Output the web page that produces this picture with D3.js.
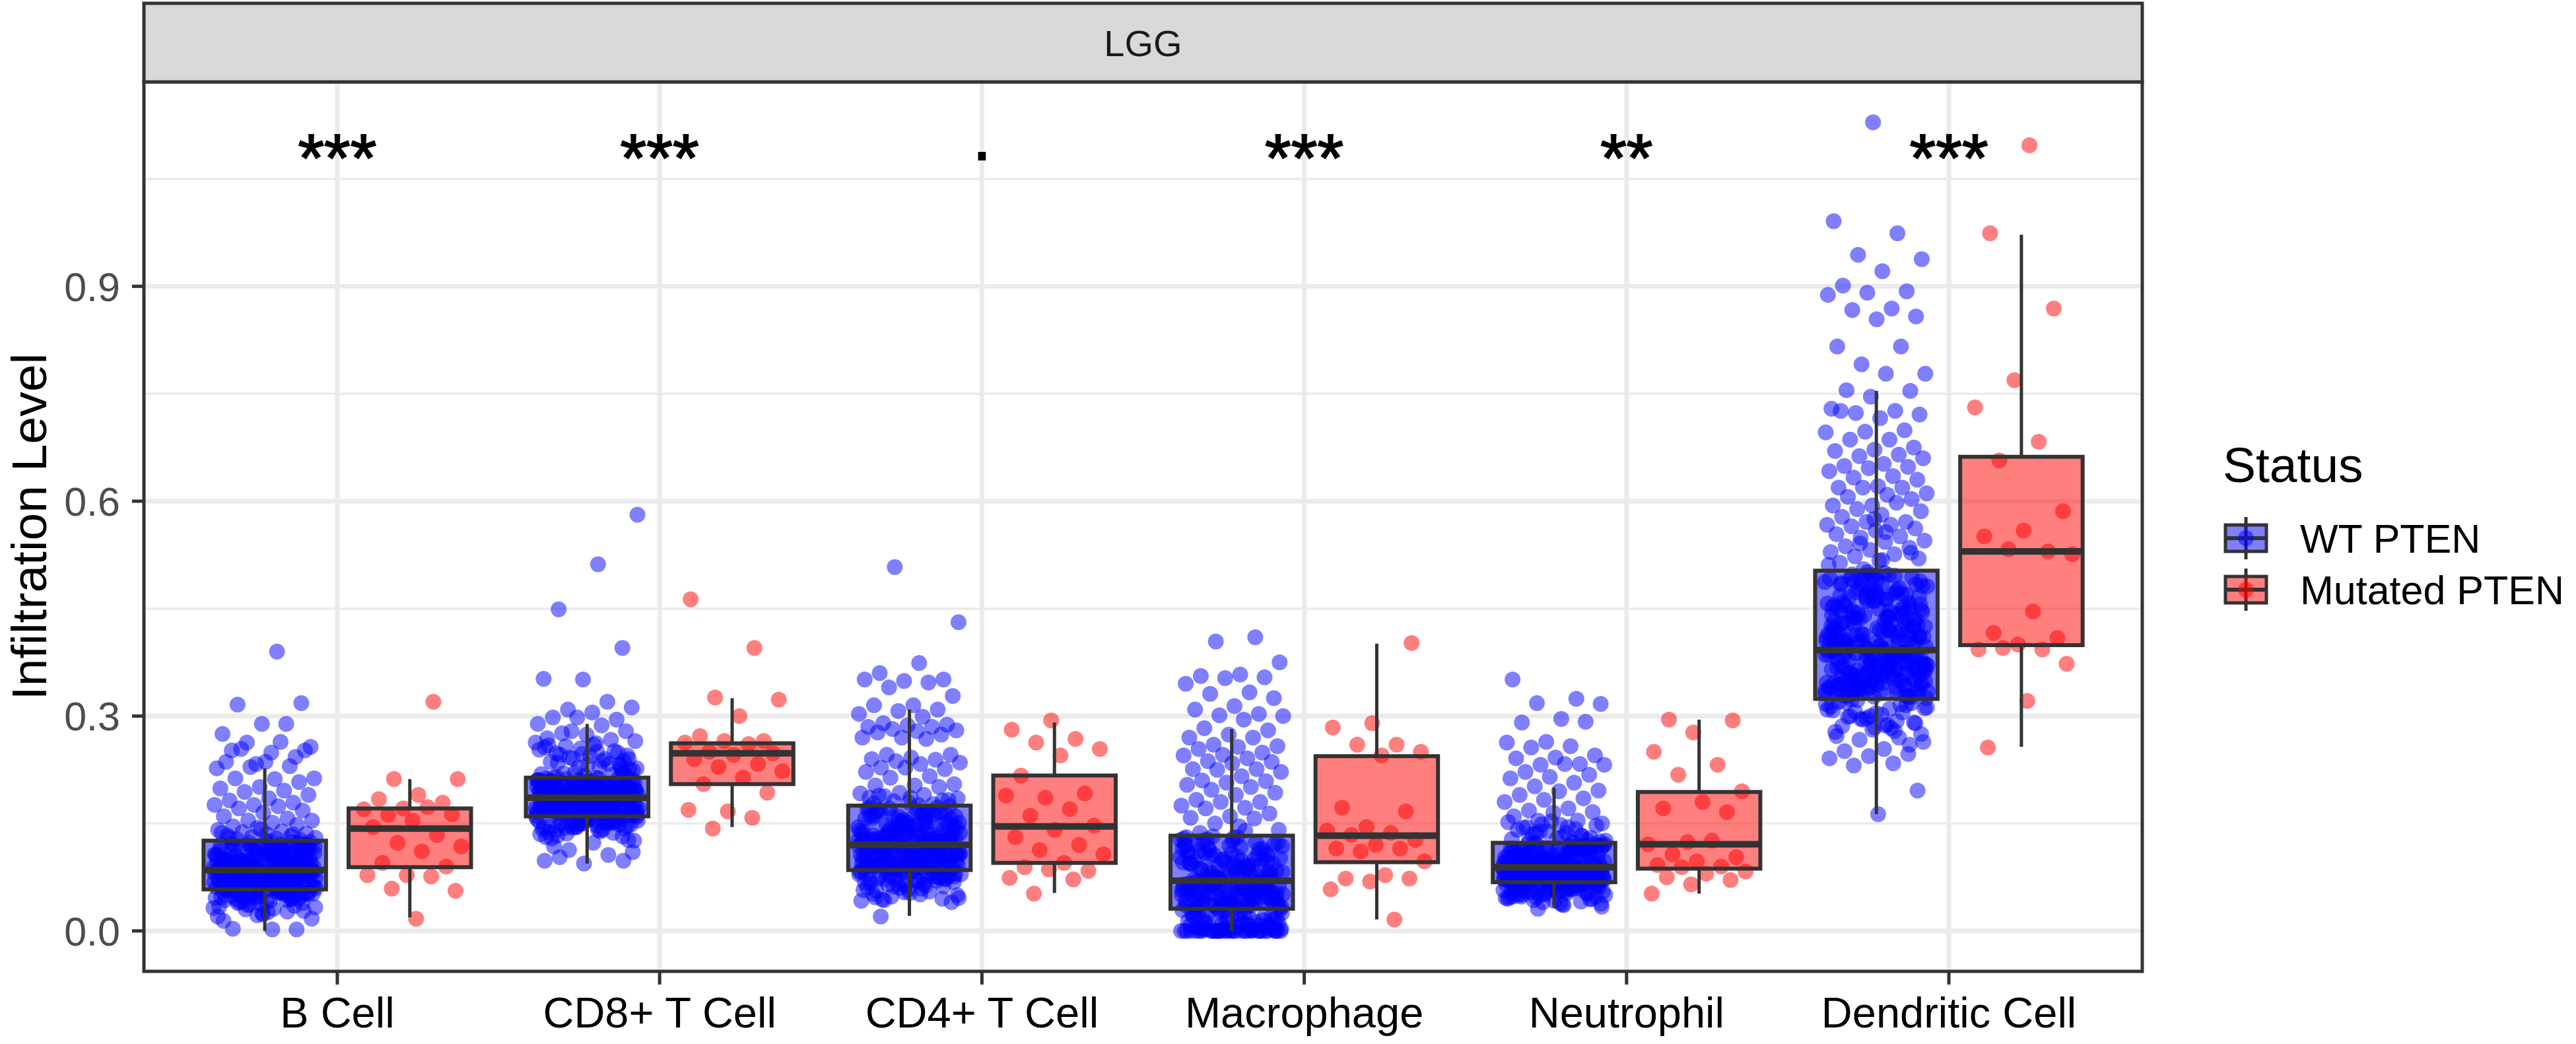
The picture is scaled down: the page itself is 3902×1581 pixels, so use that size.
<!DOCTYPE html>
<html>
<head>
<meta charset="utf-8">
<script src="https://cdn.jsdelivr.net/npm/d3@7"></script>
<style>
  body { margin: 0; background: #ffffff; }
  text { font-family: "Liberation Sans", Arial, Helvetica, sans-serif; }
</style>
</head>
<body>
<svg id="chart"></svg>
<script>
// categories, groups and labels
const cellTypes = ["B Cell", "CD8+ T Cell", "CD4+ T Cell", "Macrophage", "Neutrophil", "Dendritic Cell"];
const statusGroups = ["WT PTEN", "Mutated PTEN"];
const signifLabels = ["***", "***", ".", "***", "**", "***"];
const yTicks = [0, 0.3, 0.6, 0.9];
const facetLabel = "LGG";

// infiltration level x1000
const wtBCell = [390,316,318,289,275,289,263,257,249,252,243,233,227,264,254,252,236,236,230,229,213,212,213,208,201,199,196,194,190,185,182,179,176,176,174,171,168,165,160,157,154,154,151,146,148,
  144,141,139,138,136,135,133,132,131,130,129,128,127,142,137,
  118,97,103,125,88,111,92,106,121,99,86,114,95,108,123,90,101,117,93,105,112,87,98,120,109,94,124,102,89,115,96,107,119,91,100,113,86,104,122,97,110,93,116,88,103,126,99,108,92,118,95,105,111,89,121,100,94,114,107,90,
  72,65,80,59,77,68,84,61,74,70,63,82,66,79,58,71,76,62,85,69,73,64,81,60,78,67,75,83,62,70,66,79,59,73,84,68,61,77,64,80,71,58,75,69,83,63,72,78,60,67,81,74,65,70,76,62,85,68,79,73,
  39,23,14,27,36,17,2,3,2,22,20,55,48,52,41,57,45,50,33,56,44,53,38,47,51,30,54,42,49,35,57,46,53,40,28,55,43,50,37,52,31,56,45,48,34,54,41,51,26,57,44,47,32,53,39,49,25,55,43,58,
  94,71,112,63,88,105,57,79,118,66,99,84,52,109,75,91,122,61,86,103,69,115,81,96,48,73,107,89,64,120,77,101,58,93,83,113,70,98,45,87,110,62,80,104,67,95,117,74,90,55,108,78,100,65,85,124,71,97,60,111,82,92,50,76,106,68,89,119,63,102,79,94,56,87,114,72,99,84,130,135];
const wtCD8 = [581,512,449,395,351,352,320,309,312,305,298,295,298,289,287,276,279,274,269,267,279,265,
  262,248,231,255,219,240,258,226,244,236,251,221,263,229,246,238,217,256,233,242,224,260,215,249,228,253,237,220,245,232,259,218,241,227,250,235,222,247,
  201,190,212,196,207,188,203,193,210,198,187,205,194,213,199,191,208,196,202,189,211,195,206,192,200,186,209,197,204,190,213,193,199,207,188,202,195,211,191,205,198,187,210,194,203,189,208,200,192,206,197,214,190,201,196,209,193,204,188,199,
  172,165,181,161,177,168,185,163,174,170,179,162,183,167,175,160,171,178,164,184,169,173,166,180,161,176,182,168,163,174,170,186,165,177,162,179,171,167,184,173,160,175,169,181,164,178,172,166,183,161,176,170,163,180,168,174,165,185,171,177,
  103,98,94,98,106,113,110,123,118,157,149,153,141,158,146,155,138,151,144,159,147,133,156,150,142,154,136,148,158,129,152,145,157,139,150,143,156,131,153,147,126,155,140,149,158,135,152,144,127,157,146,137,151,154,141,148,132,156,145,150,
  185,172,203,168,194,178,211,163,189,199,175,207,182,170,196,186,215,161,191,179,202,174,188,166,209,181,197,171,193,184,220,158,205,176,190,198,169,183,213,177,195,164,187,200,173,208,180,192,167,204,185,226,150,196,178,189,171,210,182,193,145,201,175,186,218,162,198,180,191,169,206,184,233,155,194,176,188,240,172,199];
const wtCD4 = [508,431,374,360,351,349,351,347,340,328,315,315,
  309,307,303,299,290,288,287,285,285,282,280,279,277,274,270,270,268,246,246,242,240,239,237,235,233,228,226,228,222,216,214,205,203,203,201,193,192,190,
  188,183,179,186,177,181,185,176,189,182,
  150,128,167,139,121,158,134,172,145,126,162,131,153,143,170,124,136,160,148,129,165,141,122,155,133,174,146,127,163,138,151,123,168,142,130,157,135,171,147,125,161,132,154,140,166,121,149,137,173,128,159,144,134,169,126,152,139,164,131,156,
  102,91,115,87,108,96,119,89,105,99,112,86,110,94,117,100,88,106,93,114,97,103,90,118,85,109,95,113,101,92,107,98,116,87,104,91,111,96,119,89,100,106,93,115,86,108,97,112,90,103,117,94,105,88,110,99,114,92,101,107,
  51,20,72,64,80,55,77,68,84,47,74,60,82,66,43,79,58,71,76,62,50,69,73,45,81,57,78,65,40,83,52,70,66,79,59,44,73,84,61,77,48,80,71,56,75,69,42,63,72,78,53,67,81,74,46,70,76,62,54,68,
  118,96,142,88,127,105,160,79,134,112,98,151,121,86,139,108,170,93,125,115,101,146,82,131,110,157,95,123,137,89,104,165,117,91,128,143,76,113,100,135,120,84,149,107,126,97,161,114,130,92,140,103,119,155,87,124,109,133,99,178,116,94,145,106,122,81,138,111,153,90,129,102,167,118,85,136,107,148,97,186];
const wtMacrophage = [410,404,375,358,356,354,353,345,333,331,325,314,309,303,301,300,295,283,
  280,274,270,270,260,258,257,254,249,246,245,241,237,236,234,226,226,225,222,216,210,209,207,204,201,197,193,190,183,180,180,175,172,171,164,160,158,157,150,141,146,137,
  101,78,122,85,113,94,130,72,107,89,118,81,126,97,75,110,91,132,84,104,120,71,99,115,87,128,79,108,93,124,74,102,117,86,111,96,131,77,105,121,83,98,114,73,127,90,109,82,119,95,70,106,123,88,112,76,100,129,92,116,
  52,38,66,44,59,33,61,48,69,41,55,35,63,47,57,31,68,43,50,37,64,54,40,60,46,67,34,58,49,42,65,36,53,62,45,39,56,69,32,51,60,44,66,37,57,48,63,41,54,35,67,46,59,33,52,43,61,38,55,50,
  0,0,0,0,0,0,0,0,0,0,0,0,0,0,0,2,5,1,8,3,0,12,6,0,15,4,0,9,18,2,0,21,7,0,25,11,3,0,28,14,1,0,17,23,5,0,10,29,0,20,8,0,26,13,0,30,16,4,22,0,
  42,18,67,5,88,31,55,0,103,24,71,47,12,94,60,36,0,79,53,115,28,65,9,84,44,126,20,58,73,3,98,39,62,15,109,50,81,0,33,69,91,26,57,140,11,76,45,0,100,35,63,22,87,7,54,118,40,70,16,93,48,0,30,82,59,14,106,38,66,1,77,52,131,25,61,8,96,43,74,19];
const wtNeutrophil = [351,324,318,317,296,291,292,264,263,258,256,245,242,241,233,232,232,233,222,218,215,213,207,202,
  196,195,190,185,183,180,171,168,166,165,160,154,154,
  150,131,144,127,139,152,124,135,147,129,141,133,149,126,137,145,130,153,128,142,136,125,148,
  104,92,117,96,110,99,121,90,107,113,94,119,101,89,115,97,108,123,93,105,112,91,118,100,95,109,122,98,106,114,90,103,116,92,111,120,97,102,108,94,117,89,106,113,99,121,96,104,110,91,115,101,93,119,107,98,112,95,103,118,
  78,70,85,73,81,69,87,75,72,83,77,71,88,74,80,68,84,76,79,86,70,73,82,75,89,71,78,84,69,77,81,74,87,72,80,76,85,70,83,79,73,88,68,77,82,71,86,75,80,74,84,69,78,72,85,76,81,70,87,79,
  31,34,37,60,52,66,45,58,63,48,55,67,41,61,50,56,64,44,59,53,67,47,62,39,57,65,51,46,60,54,66,42,58,63,49,55,36,61,52,65,47,59,43,64,56,50,62,40,57,53,66,45,60,48,63,54,38,58,51,65,
  88,74,101,66,93,80,112,59,85,97,71,106,83,63,90,118,77,95,68,87,104,52,81,92,126,73,99,61,86,109,78,94,55,84,115,70,91,102,64,82,96,133,75,89,58,107,79,98,67,86,121,72,93,48,83,100,65,88,111,76,95,60,84,139,71,97,81,105,57,90,78,123,69,92,63,86,103,74,145,80];
const wtDendritic = [1129,991,974,944,938,921,901,893,891,888,869,867,858,854,816,816,791,778,778,755,754,746,729,726,723,721,716,726,699,697,696,686,686,675,672,670,665,663,660,652,649,648,646,642,635,633,630,621,619,619,619,611,609,606,603,594,594,598,589,586,581,578,571,571,567,567,565,562,559,554,551,549,545,543,537,535,532,529,526,523,520,517,514,
  450,398,487,421,466,402,495,433,411,478,445,393,459,426,501,415,470,438,404,490,452,419,483,397,463,429,408,497,441,473,413,456,399,486,431,468,405,447,492,424,461,395,479,436,410,500,455,418,474,401,443,488,427,466,396,452,414,481,439,407,494,460,422,476,403,448,485,430,469,394,457,416,498,435,472,409,444,489,425,463,400,451,477,412,496,437,467,420,484,406,
  355,331,378,342,367,327,389,350,336,373,346,384,329,361,340,381,352,334,370,344,387,358,325,365,338,376,348,391,332,363,343,372,356,328,385,347,368,337,380,353,330,375,341,362,388,349,326,369,339,382,357,333,366,345,390,351,335,374,360,327,383,346,364,341,377,354,329,371,338,386,359,331,367,344,379,350,336,373,362,328,384,348,365,340,388,356,333,370,343,376,
  317,310,300,291,284,278,270,267,264,254,251,247,244,241,234,231,196,163,320,305,295,312,288,299,318,281,308,293,322,275,302,286,315,297,309,283,323,290,304,272,316,296,311,287,319,260,300,313,279,306,
  412,356,468,389,441,335,497,378,425,362,455,401,347,482,418,369,436,393,511,352,447,384,423,339,471,406,365,439,397,528,374,452,416,343,488,381,430,359,464,410,395,446,350,476,421,386,541,367,433,404,458,340,492,379,427,361,450,414,388,505,371,437,399,354,469,420,383,444,345,518,408,376,461,392,431,357,484,403,368,440,415,349,557,390,454,377,426,363,473,411,398,447,342,496,385,419,360,435,575,402];

const mutBCell = [320,212,212,190,184,179,171,170,173,162,163,154,145,134,123,118,111,95,90,78,78,76,59,56,17];
const mutCD8 = [463,395,326,323,300,272,265,265,263,261,250,248,246,240,233,229,223,214,205,193,167,169,158,143];
const mutCD4 = [294,281,268,263,254,245,217,192,186,189,170,161,147,141,131,120,113,107,95,89,84,86,74,72,52];
const mutMacrophage = [402,290,284,260,260,250,245,172,167,145,140,137,134,127,120,115,115,111,97,78,73,73,69,58,16];
const mutNeutrophil = [295,294,277,250,232,218,195,180,171,166,124,121,126,107,103,97,92,90,89,83,80,75,71,65,52];
const mutDendritic = [1097,974,869,769,731,683,657,586,559,551,530,533,526,446,416,409,400,393,393,395,373,321,256];

// box statistics [lower whisker, Q1, median, Q3, upper whisker]
const wtBoxStats = [
  [0.000, 0.058, 0.085, 0.126, 0.227],
  [0.094, 0.160, 0.186, 0.214, 0.289],
  [0.021, 0.085, 0.120, 0.175, 0.309],
  [0.000, 0.031, 0.070, 0.133, 0.282],
  [0.033, 0.068, 0.089, 0.123, 0.200],
  [0.163, 0.324, 0.392, 0.503, 0.754]
];
const mutBoxStats = [
  [0.019, 0.089, 0.143, 0.171, 0.212],
  [0.145, 0.205, 0.248, 0.262, 0.325],
  [0.053, 0.095, 0.146, 0.217, 0.291],
  [0.016, 0.096, 0.133, 0.244, 0.401],
  [0.052, 0.087, 0.121, 0.194, 0.295],
  [0.257, 0.399, 0.530, 0.662, 0.972]
];

const wtValues = [wtBCell, wtCD8, wtCD4, wtMacrophage, wtNeutrophil, wtDendritic];
const mutValues = [mutBCell, mutCD8, mutCD4, mutMacrophage, mutNeutrophil, mutDendritic];

// ---------- layout ----------
const W = 3902, H = 1581;
const panel = {left: 218, right: 3245, top: 124, bottom: 1471};
const stripTop = 5;
const groupColors = ["#0000FF", "#FF0000"];
const darkLine = "#333333";
const gridColor = "#EBEBEB";
const pointR = 12;

const svg = d3.select("#chart").attr("width", W).attr("height", H);

const x = d3.scalePoint().domain(cellTypes).range([panel.left, panel.right]).padding(0.6);
const step = x.step();
const dodge = 0.225 * step;
const boxW = 0.38 * step;
const jitterW = 0.16 * step;

// build point records
const points = [];
[wtValues, mutValues].forEach((groupVals, s) => {
  groupVals.forEach((vals, i) => {
    vals.forEach((v, k) => {
      points.push({cell: cellTypes[i], status: s, value: v / 1000, k: k, i: i});
    });
  });
});

const yMax = d3.max(points, d => d.value), yMin = d3.min(points, d => d.value);
const yPad = (yMax - yMin) * 0.05;
const y = d3.scaleLinear().domain([yMin - yPad, yMax + yPad]).range([panel.bottom, panel.top]);

// panel background + grid
svg.append("rect").attr("x", panel.left).attr("y", panel.top)
  .attr("width", panel.right - panel.left).attr("height", panel.bottom - panel.top)
  .attr("fill", "#ffffff");

const minorTicks = yTicks.map(t => t + 0.15).filter(t => t < y.domain()[1]);
const grid = svg.append("g");
grid.selectAll(".minor").data(minorTicks).join("line")
  .attr("x1", panel.left).attr("x2", panel.right)
  .attr("y1", d => y(d)).attr("y2", d => y(d))
  .attr("stroke", gridColor).attr("stroke-width", 3.5);
grid.selectAll(".major").data(yTicks).join("line")
  .attr("x1", panel.left).attr("x2", panel.right)
  .attr("y1", d => y(d)).attr("y2", d => y(d))
  .attr("stroke", gridColor).attr("stroke-width", 7);
grid.selectAll(".vmajor").data(cellTypes).join("line")
  .attr("x1", d => x(d)).attr("x2", d => x(d))
  .attr("y1", panel.top).attr("y2", panel.bottom)
  .attr("stroke", gridColor).attr("stroke-width", 7);

// jittered points (deterministic spread)
function jitter(d) {
  const f = ((d.k + 1) * 0.6180339887 + d.i * 0.37 + d.status * 0.11) % 1;
  return (2 * f - 1) * jitterW;
}
svg.append("g").selectAll("circle").data(points).join("circle")
  .attr("cx", d => x(d.cell) + (d.status === 0 ? -dodge : dodge) + jitter(d))
  .attr("cy", d => y(d.value))
  .attr("r", pointR)
  .attr("fill", d => groupColors[d.status])
  .attr("fill-opacity", 0.5);

// boxplots
const boxes = [];
cellTypes.forEach((c, i) => {
  boxes.push({cell: c, status: 0, st: wtBoxStats[i]});
  boxes.push({cell: c, status: 1, st: mutBoxStats[i]});
});
const bg = svg.append("g").selectAll("g").data(boxes).join("g")
  .attr("transform", d => `translate(${x(d.cell) + (d.status === 0 ? -dodge : dodge)},0)`);
bg.append("line").attr("x1", 0).attr("x2", 0)
  .attr("y1", d => y(d.st[0])).attr("y2", d => y(d.st[1]))
  .attr("stroke", darkLine).attr("stroke-width", 5);
bg.append("line").attr("x1", 0).attr("x2", 0)
  .attr("y1", d => y(d.st[3])).attr("y2", d => y(d.st[4]))
  .attr("stroke", darkLine).attr("stroke-width", 5);
bg.append("rect")
  .attr("x", -boxW / 2).attr("width", boxW)
  .attr("y", d => y(d.st[3])).attr("height", d => y(d.st[1]) - y(d.st[3]))
  .attr("fill", d => groupColors[d.status]).attr("fill-opacity", 0.5)
  .attr("stroke", darkLine).attr("stroke-width", 6);
bg.append("line").attr("x1", -boxW / 2).attr("x2", boxW / 2)
  .attr("y1", d => y(d.st[2])).attr("y2", d => y(d.st[2]))
  .attr("stroke", darkLine).attr("stroke-width", 10);

// significance labels, centred on their ink like R does
const labelY = 1.081;
svg.append("g").selectAll("text").data(cellTypes).join("text")
  .attr("x", d => x(d)).attr("y", y(labelY))
  .attr("dy", (d, i) => signifLabels[i].includes("*") ? "0.36em" : "0.05em")
  .attr("text-anchor", "middle")
  .attr("font-size", 102).attr("fill", "#000000")
  .attr("stroke", "#000000").attr("stroke-width", 2)
  .text((d, i) => signifLabels[i]);

// panel border
svg.append("rect").attr("x", panel.left).attr("y", panel.top)
  .attr("width", panel.right - panel.left).attr("height", panel.bottom - panel.top)
  .attr("fill", "none").attr("stroke", darkLine).attr("stroke-width", 5);

// facet strip
svg.append("rect").attr("x", panel.left).attr("y", stripTop)
  .attr("width", panel.right - panel.left).attr("height", panel.top - stripTop)
  .attr("fill", "#D9D9D9").attr("stroke", darkLine).attr("stroke-width", 5);
svg.append("text").attr("x", (panel.left + panel.right) / 2).attr("y", (stripTop + panel.top) / 2)
  .attr("dy", "0.36em").attr("text-anchor", "middle")
  .attr("font-size", 56).attr("fill", "#1A1A1A").text(facetLabel);

// y axis
const yAxis = svg.append("g");
yAxis.selectAll("line").data(yTicks).join("line")
  .attr("x1", panel.left - 18).attr("x2", panel.left)
  .attr("y1", d => y(d)).attr("y2", d => y(d))
  .attr("stroke", darkLine).attr("stroke-width", 5);
yAxis.selectAll("text").data(yTicks).join("text")
  .attr("x", panel.left - 36).attr("y", d => y(d)).attr("dy", "0.36em")
  .attr("text-anchor", "end").attr("font-size", 61).attr("fill", "#4D4D4D")
  .text(d => d3.format(".1f")(d));
svg.append("text")
  .attr("transform", `translate(70,${(panel.top + panel.bottom) / 2}) rotate(-90)`)
  .attr("text-anchor", "middle").attr("font-size", 75).attr("fill", "#000000")
  .text("Infiltration Level");

// x axis
const xAxis = svg.append("g");
xAxis.selectAll("line").data(cellTypes).join("line")
  .attr("x1", d => x(d)).attr("x2", d => x(d))
  .attr("y1", panel.bottom).attr("y2", panel.bottom + 20)
  .attr("stroke", darkLine).attr("stroke-width", 5);
xAxis.selectAll("text").data(cellTypes).join("text")
  .attr("x", d => x(d)).attr("y", 1556)
  .attr("text-anchor", "middle").attr("font-size", 65).attr("fill", "#000000")
  .text(d => d);

// legend
const legend = svg.append("g").attr("transform", "translate(3367,0)");
legend.append("text").attr("x", 0).attr("y", 730)
  .attr("font-size", 75).attr("fill", "#000000").text("Status");
const keys = legend.selectAll(".key").data(statusGroups).join("g")
  .attr("transform", (d, i) => `translate(35,${815 + i * 78})`);
keys.append("line").attr("x1", 0).attr("x2", 0).attr("y1", -32).attr("y2", 32)
  .attr("stroke", darkLine).attr("stroke-width", 5);
keys.append("rect").attr("x", -31).attr("y", -20).attr("width", 62).attr("height", 40)
  .attr("fill", (d, i) => groupColors[i]).attr("fill-opacity", 0.5)
  .attr("stroke", darkLine).attr("stroke-width", 5);
keys.append("line").attr("x1", -31).attr("x2", 31).attr("y1", 0).attr("y2", 0)
  .attr("stroke", darkLine).attr("stroke-width", 6);
keys.append("circle").attr("r", pointR)
  .attr("fill", (d, i) => groupColors[i]).attr("fill-opacity", 0.5);
keys.append("text").attr("x", 82).attr("y", 22)
  .attr("font-size", 61).attr("fill", "#000000").text(d => d);
</script>
</body>
</html>
